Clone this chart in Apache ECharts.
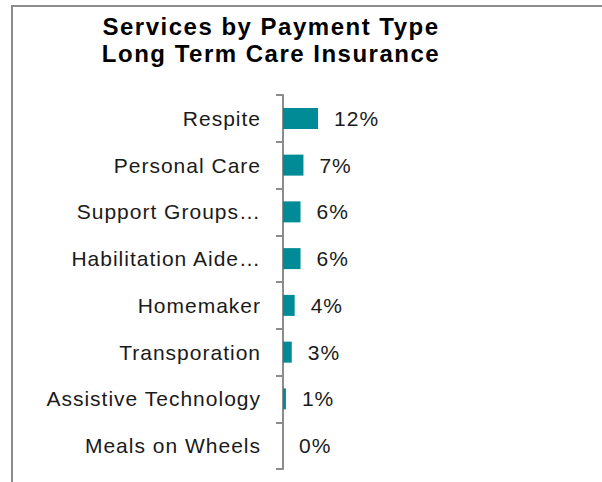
<!DOCTYPE html>
<html>
<head>
<meta charset="utf-8">
<script src="https://cdn.jsdelivr.net/npm/echarts@6/dist/echarts.min.js"></script>
<style>
  html, body { margin: 0; padding: 0; background: #ffffff; }
  #main { width: 602px; height: 482px; }
  /* spaced-out lettering of the labels */
  #main text { letter-spacing: 1px; }
  #main text[style*="bold"] { letter-spacing: 1.5px; }
</style>
</head>
<body>
<div id="main"></div>
<script>
// Services paid for by long term care insurance (share of respondents, %)
const services = [
  'Respite',
  'Personal Care',
  'Support Groups\u2026',
  'Habilitation Aide\u2026',
  'Homemaker',
  'Transporation',
  'Assistive Technology',
  'Meals on Wheels'
];
const shares = [12, 7, 6, 6, 4, 3, 1, 0];
const titleLines = ['Services by Payment Type', 'Long Term Care Insurance'];

const FONT = "'Liberation Sans', Arial, Helvetica, sans-serif";
const chart = echarts.init(document.getElementById('main'), null, { renderer: 'svg' });

chart.setOption({
  animation: false,
  backgroundColor: '#ffffff',
  graphic: [{
    type: 'rect',
    shape: { x: 12, y: 6, width: 620, height: 500 },
    style: { fill: 'none', stroke: '#8c8c8c', lineWidth: 2 },
    silent: true
  }],
  title: {
    text: titleLines.join('\n'),
    left: 266,
    top: 8,
    textAlign: 'center',
    textStyle: {
      fontFamily: FONT,
      fontWeight: 'bold',
      fontSize: 24,
      lineHeight: 27,
      color: '#000000'
    }
  },
  grid: { left: 283, top: 95, width: 292, height: 374, containLabel: false },
  xAxis: {
    type: 'value',
    min: 0,
    max: 100,
    show: false
  },
  yAxis: {
    type: 'category',
    inverse: true,
    data: services,
    axisLine: { show: true, lineStyle: { color: '#8c8c8c', width: 2 } },
    axisTick: { show: true, length: 7, lineStyle: { color: '#8c8c8c', width: 2 } },
    axisLabel: {
      margin: 22,
      fontFamily: FONT,
      fontSize: 21,
      color: '#1a1a1a'
    },
    splitLine: { show: false }
  },
  series: [{
    type: 'bar',
    data: shares,
    barWidth: 21,
    itemStyle: { color: '#008b96' },
    label: {
      show: true,
      position: 'right',
      distance: 16,
      formatter: p => p.value + '%',
      fontFamily: FONT,
      fontSize: 21,
      color: '#1a1a1a'
    }
  }]
});
</script>
</body>
</html>
